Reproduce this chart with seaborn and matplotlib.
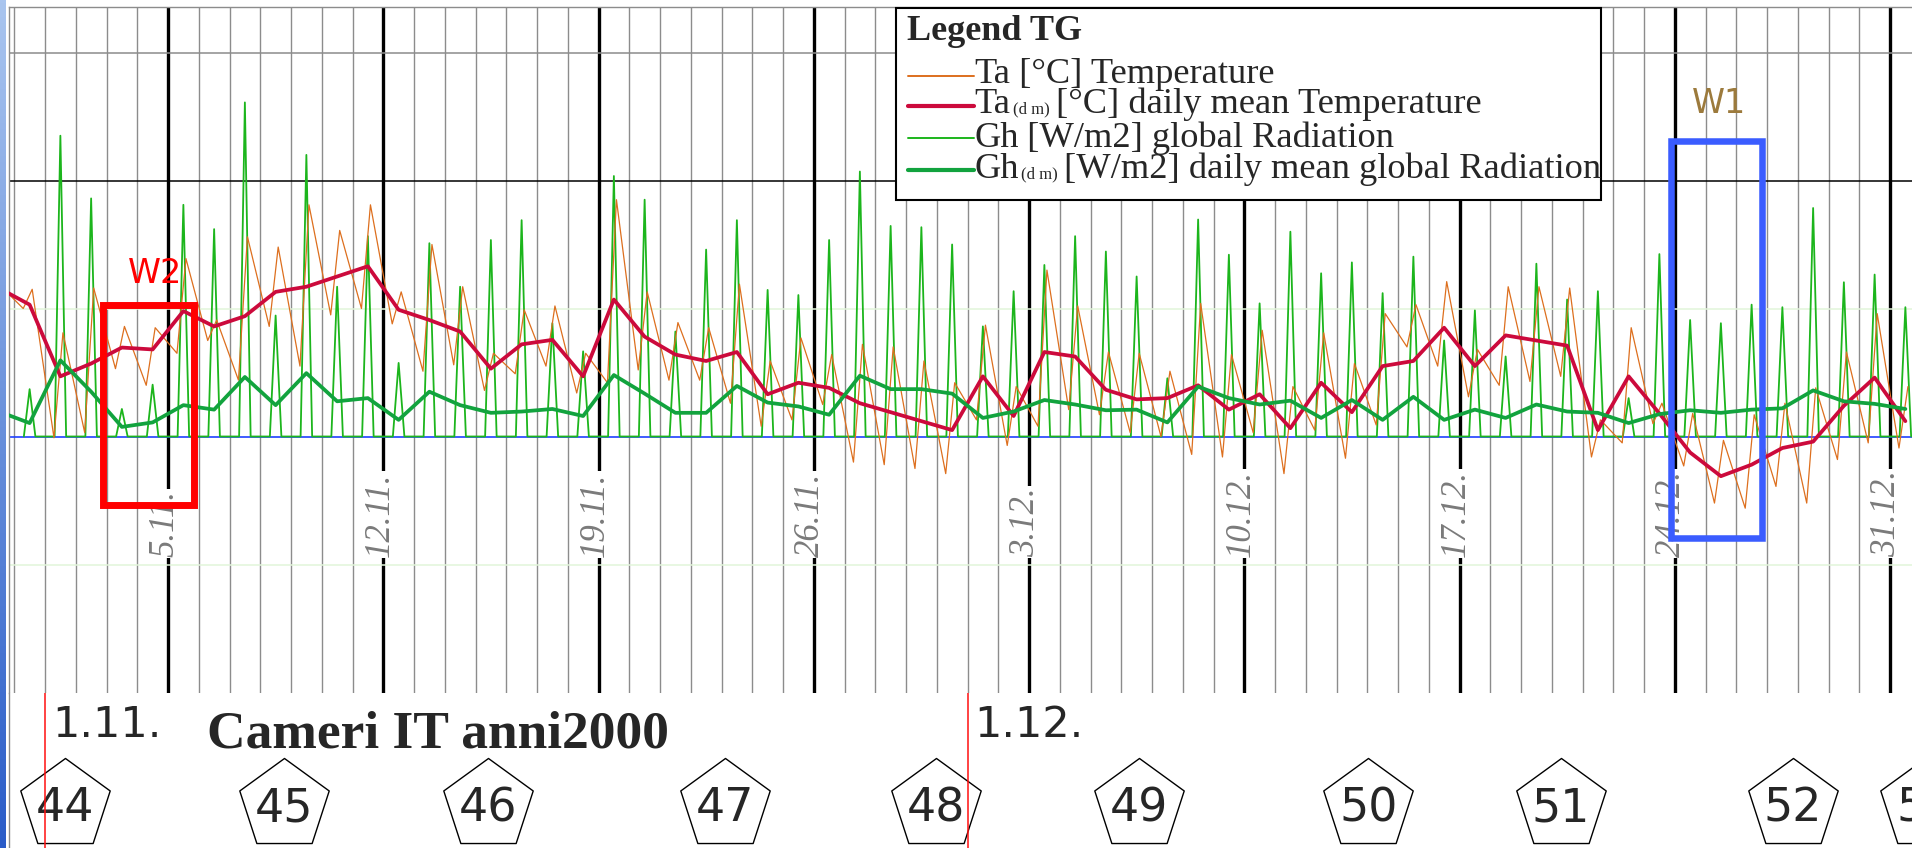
import numpy as np
import pandas as pd
import matplotlib
matplotlib.use("Agg")
import matplotlib.pyplot as plt
import matplotlib.transforms as mtransforms
from matplotlib.patches import Rectangle
from matplotlib.lines import Line2D
from matplotlib.colors import LinearSegmentedColormap
import seaborn as sns

# ---------------- data ----------------
# day index: 0 = 1.11.2000, 60 = 31.12.2000
day_index = list(range(-2, 61))

ta_daily_mean = [11.6, 10.3, 4.7, 5.7, 6.95, 6.8, 9.8, 8.6, 9.4, 11.3, 11.7, 12.5, 13.3, 9.9, 9.1, 8.2,
                 5.3, 7.2, 7.55, 4.7, 10.7, 7.8, 6.4, 5.9, 6.6, 3.3, 4.2, 3.8, 2.6, 1.9, 1.2, 0.5,
                 4.7, 1.6, 6.6, 6.25, 3.65, 2.9, 3.0, 4.0, 2.1, 3.3, 0.65, 4.2, 1.9, 5.5, 5.9,
                 8.5, 5.5, 7.9, 7.5, 7.1, 0.5, 4.7, 1.8, -1.25, -3.1, -2.2, -0.9, -0.4, 2.4, 4.6, 1.2]

gh_daily_mean = [39, 21, 119, 70, 15, 22, 49, 42, 93, 49, 99, 55, 60, 26, 70, 49,
                 37, 39, 43, 32, 96, 67, 37, 37, 79, 53, 47, 34, 95, 74, 74, 67,
                 29, 39, 57, 50, 41, 42, 22, 78, 60, 50, 56, 29, 57, 26, 62,
                 26, 42, 29, 50, 39, 37, 21, 35, 41, 37, 42, 44, 72, 55, 51, 43]

# daily noon peak of global radiation [W/m2]
gh_peak = [np.nan, 74, 470, 372, 43, 81, 362, 324, 522, 189, 440, 234, 313, 115, 302, 234,
           307, 338, 177, 133, 407, 370, 164, 292, 338, 229, 221, 307, 414, 329, 327, 300,
           172, 227, 268, 313, 289, 250, 91, 339, 284, 208, 320, 255, 272, 224, 281,
           150, 197, 125, 270, 214, 227, 60, 285, 182, 177, 206, 202, 357, 241, 253, 202]

# daily minimum (morning) and maximum (afternoon) air temperature [deg C]
ta_min = [np.nan, 10.0, -0.1, 0.3, 5.3, 4.0, 6.5, 7.5, 4.4, 8.6, 5.5, 9.5, 10.0, 8.8, 5.1, 5.6,
          3.6, 4.9, 5.5, 3.4, 4.2, 5.2, 4.4, 4.4, 2.6, 0.8, 1.3, 2.5, -2.0, -2.2, -2.5, -2.9,
          1.3, -0.7, 0.8, 2.1, 1.7, 0.3, 0.0, -1.4, -1.6, 0.3, -2.9, 0.5, -1.7, 0.9, 7.0,
          5.5, 3.1, 4.0, 4.3, 4.7, -1.6, -0.5, 1.0, -2.3, -5.2, -5.6, -3.9, -5.2, -1.8, -0.5, -0.9]
ta_max = [11.7, 11.5, 8.1, 11.6, 8.6, 8.5, 13.9, 9.1, 15.6, 14.8, 18.1, 16.1, 18.1, 11.3, 15.0, 11.7,
          6.5, 9.9, 10.2, 6.5, 18.5, 11.3, 8.9, 8.5, 11.9, 5.9, 7.7, 6.4, 7.2, 7.0, 5.9, 4.2,
          8.7, 3.9, 13.0, 10.2, 6.6, 6.5, 5.1, 10.4, 6.4, 8.3, 3.9, 8.1, 5.7, 9.6, 10.3,
          12.1, 6.8, 11.7, 11.7, 11.6, 1.3, 8.5, 2.6, 1.8, -0.3, 1.7, 2.6, 3.8, 6.6, 9.6, 3.9]

SUNRISE_H, NOON_H, SUNSET_H = 7.5, 12.0, 16.5
TMIN_H, TMAX_H = 7.0, 14.0

week_start_days = [4, 11, 18, 25, 32, 39, 46, 53, 60]
week_start_labels = ['5.11.', '12.11.', '19.11.', '26.11.', '3.12.', '10.12.', '17.12.', '24.12.', '31.12.']
month_start_days = [0, 30]
month_labels = ['1.11.', '1.12.']
week_numbers = [44, 45, 46, 47, 48, 49, 50, 51, 52, 53]
week_label_days = [0.65, 7.76, 14.41, 22.10, 28.96, 35.59, 43.04, 49.30, 56.83, 61.15]

legend_title = 'Legend TG'
legend_rows = [('Ta', None, ' [°C] Temperature'),
               ('Ta', '(d m)', '[°C] daily mean Temperature'),
               ('Gh', None, ' [W/m2] global Radiation'),
               ('Gh', '(d m)', '[W/m2] daily mean global Radiation')]
chart_title = 'Cameri IT anni2000'

# ---------------- build series ----------------
ta_x, ta_y = [], []
for d, lo, hi in zip(day_index, ta_min, ta_max):
    if not np.isnan(lo):
        ta_x.append(d + TMIN_H / 24); ta_y.append(lo)
    if not np.isnan(hi):
        ta_x.append(d + TMAX_H / 24); ta_y.append(hi)
gh_x, gh_y = [], []
for d, p in zip(day_index, gh_peak):
    if np.isnan(p):
        continue
    gh_x += [d + SUNRISE_H / 24, d + NOON_H / 24, d + SUNSET_H / 24]
    gh_y += [0.0, p, 0.0]
dm = pd.DataFrame({'day': np.array(day_index) + 0.5, 'ta': ta_daily_mean, 'gh': gh_daily_mean})

# ---------------- style / layout ----------------
sns.set_theme(style="white")
plt.rcParams['font.family'] = ['DejaVu Sans']

W, H, DPI = 1912, 848, 100
PX0_DAY, PX_PER_DAY = 45.0, 30.75
PY_ZERO, PX_PER_DEG = 436.5, 12.8
GH_PER_DEG = 20.0
AX_LEFT, AX_TOP, AX_BOT = 9, 7, 693

C_TA = '#dd6f1e'
C_TADM = '#cc0a3c'
C_GH = '#1cb51c'
C_GHDM = '#12a33e'
C_GRID = '#8c8c8c'
C_PALE = '#e2f5da'

x_lo = (AX_LEFT - PX0_DAY) / PX_PER_DAY
x_hi = (W - PX0_DAY) / PX_PER_DAY
t_hi = (PY_ZERO - AX_TOP) / PX_PER_DEG
t_lo = (PY_ZERO - AX_BOT) / PX_PER_DEG

fig = plt.figure(figsize=(W / DPI, H / DPI), dpi=DPI)
fig.patch.set_facecolor('white')
rect_main = [AX_LEFT / W, 1 - AX_BOT / H, 1 - AX_LEFT / W, (AX_BOT - AX_TOP) / H]
ax_g = fig.add_axes(rect_main, label='gh')
ax_t = fig.add_axes(rect_main, label='ta')
ax_m = fig.add_axes(rect_main, label='dm')
for a in (ax_g, ax_t, ax_m):
    a.set_xlim(x_lo, x_hi)
ax_g.set_ylim(t_lo * GH_PER_DEG, t_hi * GH_PER_DEG)
ax_m.set_ylim(t_lo * GH_PER_DEG, t_hi * GH_PER_DEG)
ax_t.set_ylim(t_lo, t_hi)
ax_g.set_zorder(0); ax_t.set_zorder(1); ax_m.set_zorder(2)
ax_t.patch.set_visible(False); ax_m.patch.set_visible(False)
ax_g.set_facecolor('white')

# grid
for d in range(-1, 62):
    thick = (d - 4) % 7 == 0
    ax_g.axvline(d, color='black' if thick else C_GRID, lw=2.4 if thick else 1.0, zorder=1)
for t, c in [(30, C_GRID), (20, 'black'), (10, C_PALE), (-10, C_PALE)]:
    ax_g.axhline(t * GH_PER_DEG, color=c, lw=1.1, zorder=1.2)
ax_g.axhline(0, color='#1f3fff', lw=1.2, zorder=2)

lab_tr = mtransforms.offset_copy(ax_t.transData, fig=fig, x=-3, y=0, units='dots')
for d, s in zip(week_start_days, week_start_labels):
    ax_g.text(d, (PY_ZERO - 557) / PX_PER_DEG, s, transform=lab_tr, rotation=90,
              ha='center', va='bottom', fontsize=25, style='italic', color='#7a7a7a',
              family=['Liberation Serif'], zorder=2.5, clip_on=False,
              bbox=dict(facecolor='white', edgecolor='none', pad=1.0))

# data lines
sns.lineplot(x=gh_x, y=gh_y, ax=ax_g, color=C_GH, lw=1.3, sort=False, estimator=None, zorder=3)
sns.lineplot(x=ta_x, y=ta_y, ax=ax_t, color=C_TA, lw=0.9, sort=False, estimator=None, zorder=3)
sns.lineplot(data=dm, x='day', y='ta', ax=ax_t, color=C_TADM, lw=2.7, sort=False, estimator=None, zorder=4)
sns.lineplot(data=dm, x='day', y='gh', ax=ax_m, color=C_GHDM, lw=2.7, sort=False, estimator=None, zorder=4)

# annotation windows
ax_m.add_patch(Rectangle((1.90, -5.39), 2.95, 15.70, transform=ax_t.transData, fill=False,
                         ec='#ff0000', lw=5.0, zorder=6, clip_on=False))
ax_m.text(2.70, 12.0, 'W2', transform=ax_t.transData, color='#ff0000', fontsize=24,
          ha='left', va='baseline', zorder=6)
ax_m.add_patch(Rectangle((52.88, -7.90), 2.97, 31.0, transform=ax_t.transData, fill=False,
                         ec='#3a5cff', lw=4.7, zorder=6, clip_on=False))
ax_m.text(53.56, 25.3, 'W1', transform=ax_t.transData, color='#9c7a3c', fontsize=24,
          ha='left', va='baseline', zorder=6)

for a in (ax_g, ax_t, ax_m):
    a.set_xticks([]); a.set_yticks([])
    a.set_xlabel(''); a.set_ylabel('')
    for sp in a.spines.values():
        sp.set_visible(False)
for side in ('top', 'left'):
    ax_g.spines[side].set_visible(True)
    ax_g.spines[side].set_color(C_GRID)
    ax_g.spines[side].set_linewidth(1.0)

# bottom band
ax_b = fig.add_axes([AX_LEFT / W, 0, 1 - AX_LEFT / W, (H - AX_BOT) / H], label='band')
ax_b.set_xlim(x_lo, x_hi)
ax_b.set_ylim(H, AX_BOT)
ax_b.set_xticks([]); ax_b.set_yticks([])
for sp in ax_b.spines.values():
    sp.set_visible(False)
ax_b.spines['left'].set_visible(True)
ax_b.spines['left'].set_color(C_GRID)
ax_b.spines['left'].set_linewidth(1.0)
ax_b.set_zorder(0)

sns.scatterplot(x=week_label_days, y=[805] * len(week_label_days), ax=ax_b, marker='p', s=4583,
                facecolor='white', edgecolor='black', linewidth=1.0, zorder=3, clip_on=False)
for d, w in zip(week_label_days, week_numbers):
    ax_b.text(d, 821, str(w), ha='center', va='baseline', fontsize=33, zorder=4, clip_on=False)
mon_tr = mtransforms.offset_copy(ax_b.transData, fig=fig, x=7, y=0, units='dots')
for d, s in zip(month_start_days, month_labels):
    ax_b.axvline(d, color='#ff1010', lw=1.1, zorder=5)
    ax_b.text(d, 737, s, transform=mon_tr, ha='left', va='baseline', fontsize=31, zorder=4)
ax_b.set_xlabel(''); ax_b.set_ylabel('')

fig.text(207 / W, 1 - 748 / H, chart_title, fontsize=38.5, fontweight='bold',
         family=['Liberation Serif'], va='baseline', ha='left')

# legend (figure-level, px layout)
def fx(px):
    return px / W

def fy(py):
    return 1 - py / H

fig.add_artist(Rectangle((fx(896), fy(200)), (1601 - 896) / W, (200 - 8) / H,
                         transform=fig.transFigure, fc='white', ec='black', lw=1.5, zorder=10))
renderer = fig.canvas.get_renderer()
fig.text(fx(907), fy(39.5), legend_title, fontsize=26, fontweight='bold',
         family=['Liberation Serif'], va='baseline', ha='left', zorder=12)
row_base = [83.3, 113.3, 146.7, 178.3]
row_line = [76, 106, 138, 170]
row_style = [(C_TA, 1.4), (C_TADM, 3.0), (C_GH, 1.4), (C_GHDM, 3.0)]
for (main, sub, rest), yb, yl, (c, lw) in zip(legend_rows, row_base, row_line, row_style):
    fig.add_artist(Line2D([fx(908), fx(974)], [fy(yl), fy(yl)], transform=fig.transFigure,
                          color=c, lw=lw, zorder=11))
    t = fig.text(fx(974), fy(yb), main, fontsize=26.2, family=['Liberation Serif'],
                 va='baseline', ha='left', zorder=12)
    x1 = t.get_window_extent(renderer=renderer).x1
    if sub is not None:
        t2 = fig.text(fx(x1 + 3), fy(yb), sub, fontsize=12, family=['Liberation Serif'],
                      va='baseline', ha='left', zorder=12)
        x1 = t2.get_window_extent(renderer=renderer).x1 + 6
    fig.text(fx(x1), fy(yb), rest, fontsize=26.2, family=['Liberation Serif'],
             va='baseline', ha='left', zorder=12)

# window-frame strip on the far left
ax_s = fig.add_axes([0, 0, 6 / W, 1], label='strip')
grad = np.linspace(0, 1, 256).reshape(-1, 1)
cm = LinearSegmentedColormap.from_list('frame', ['#a9c5ef', '#2a5cc8'])
ax_s.imshow(grad, aspect='auto', cmap=cm, extent=[0, 1, 0, 1], origin='upper')
ax_s.set_axis_off()
ax_s.set_zorder(20)

fig.savefig('out.png', dpi=DPI)
